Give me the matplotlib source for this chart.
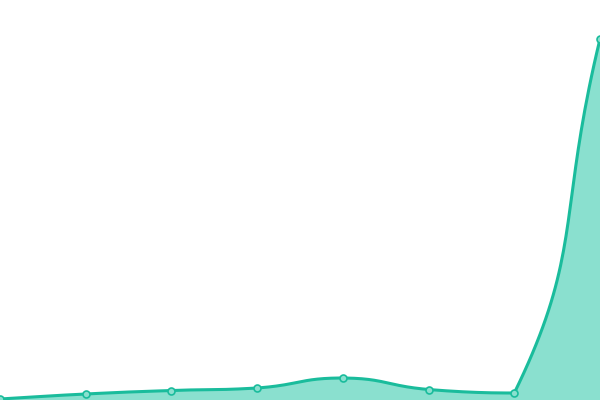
import numpy as np
import matplotlib
matplotlib.use("Agg")
import matplotlib.pyplot as plt

categories = ["1", "2", "3", "4", "5", "6", "7", "8"]
values = [1, 6, 9.5, 12, 22, 10.5, 7, 361]

LINE = "#1abc9c"
FILL = "#8ae0cf"
W, H = 600, 400
YMAX = 400


def clamp_box(c, a, b):
    lo = np.minimum(a, b)
    hi = np.maximum(a, b)
    return np.minimum(np.maximum(c, lo), hi)


def smooth_path(px, py, smooth=0.5, n=40):
    pts = np.column_stack([px, py]).astype(float)
    m = len(pts)
    cin, cout = [], []
    for i in range(m):
        p = pts[i]
        prev = pts[i - 1] if i > 0 else p
        nxt = pts[i + 1] if i < m - 1 else p
        v = nxt - prev
        l0 = np.hypot(*(p - prev))
        l1 = np.hypot(*(nxt - p))
        r = l1 / (l0 + l1) if (l0 + l1) > 0 else 0.5
        cin.append(clamp_box(p - v * smooth * (1 - r), prev, p))
        cout.append(clamp_box(p + v * smooth * r, p, nxt))
    xs, ys = [], []
    t = np.linspace(0, 1, n, endpoint=False)[:, None]
    for i in range(m - 1):
        p0, p1, p2, p3 = pts[i], cout[i], cin[i + 1], pts[i + 1]
        seg = ((1 - t) ** 3) * p0 + 3 * ((1 - t) ** 2) * t * p1 + 3 * (1 - t) * t ** 2 * p2 + t ** 3 * p3
        xs.extend(seg[:, 0]); ys.extend(seg[:, 1])
    xs.append(pts[-1, 0]); ys.append(pts[-1, 1])
    return np.array(xs), np.array(ys)


fig = plt.figure(figsize=(6, 4), dpi=100)
ax = fig.add_axes([0, 0, 1, 1])
x = np.arange(len(values))
# work in pixel space so smoothing matches screen geometry
xpix = x * W / (len(values) - 1)
ypix = np.array(values) * H / YMAX
sx, sy = smooth_path(xpix, ypix)
sx = sx * (len(values) - 1) / W
sy = sy * YMAX / H
ax.fill_between(sx, sy, 0, color=FILL, linewidth=0)
ax.plot(sx, sy, color=LINE, linewidth=2.2, solid_capstyle="round")
ax.plot(x, values, linestyle="none", marker="o", markersize=5,
        markerfacecolor=FILL, markeredgecolor=LINE, markeredgewidth=1.2)
ax.set_xlim(0, len(values) - 1)
ax.set_ylim(0, YMAX)
ax.axis("off")
fig.savefig("out.png", dpi=100)
